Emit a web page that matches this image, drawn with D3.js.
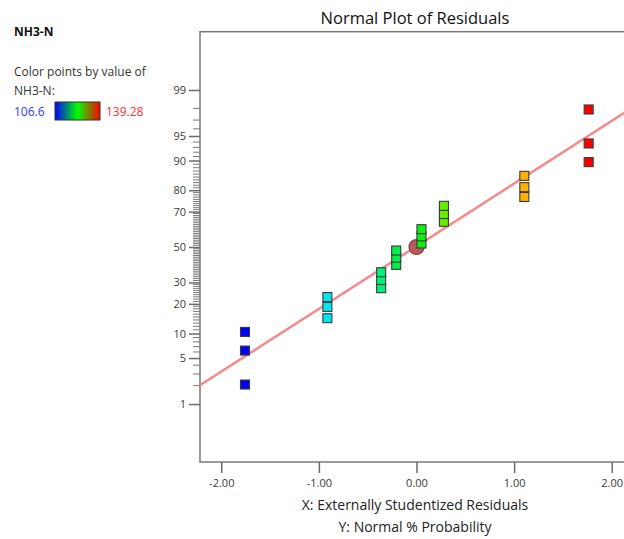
<!DOCTYPE html>
<html><head><meta charset="utf-8">
<script src="https://cdn.jsdelivr.net/npm/d3@7"></script>
<style>
body{margin:0;background:#fff;}
text{font-family:"Open Sans","Noto Sans",sans-serif;}
</style></head>
<body><svg id="c" width="624" height="539"></svg>
<script>
// ---- data ----
const residuals = [-1.757,-1.757,-1.757,-0.913,-0.913,-0.913,-0.362,-0.362,-0.362,-0.208,-0.208,-0.208,0.051,0.051,0.051,0.281,0.281,0.281,1.105,1.105,1.105,1.764,1.764,1.764];
const probability = [2.08,6.25,10.42,14.58,18.75,22.92,27.08,31.25,35.42,39.58,43.75,47.92,52.08,56.25,60.42,64.58,68.75,72.92,77.08,81.25,85.42,89.58,93.75,97.92];
const pointColors = ["#0000ff","#0000ff","#0000ff","#00e6f0","#00e6f0","#00e6f0","#00f07a","#00f07a","#00f07a","#00ee4a","#00ee4a","#00ee4a","#10f010","#10f010","#10f010","#66ee00","#66ee00","#66ee00","#ffb000","#ffb000","#ffb000","#ff0000","#ff0000","#ff0000"];
const centerPoint = {x:0.0, p:50};
const lineIntercept = 0.011, lineSlope = 0.928;
const xTicks = [-2,-1,0,1,2];
const yTickLabels = [1,5,10,20,30,50,70,80,90,95,99];
const legendMin = "106.6", legendMax = "139.28";

// inverse normal CDF (Acklam)
function probit(p){
  const a=[-39.69683028665376,220.9460984245205,-275.9285104469687,138.3577518672690,-30.66479806614716,2.506628277459239];
  const b=[-54.47609879822406,161.5858368580409,-155.6989798598866,66.80131188771972,-13.28068155288572];
  const c=[-0.007784894002430293,-0.3223964580411365,-2.400758277161838,-2.549732539343734,4.374664141464968,2.938163982698783];
  const d=[0.007784695709041462,0.3224671290700398,2.445134137142996,3.754408661907416];
  const pl=0.02425;let q,r;
  if(p<pl){q=Math.sqrt(-2*Math.log(p));return (((((c[0]*q+c[1])*q+c[2])*q+c[3])*q+c[4])*q+c[5])/((((d[0]*q+d[1])*q+d[2])*q+d[3])*q+1);}
  if(p>1-pl){q=Math.sqrt(-2*Math.log(1-p));return -(((((c[0]*q+c[1])*q+c[2])*q+c[3])*q+c[4])*q+c[5])/((((d[0]*q+d[1])*q+d[2])*q+d[3])*q+1);}
  q=p-0.5;r=q*q;return (((((a[0]*r+a[1])*r+a[2])*r+a[3])*r+a[4])*r+a[5])*q/(((((b[0]*r+b[1])*r+b[2])*r+b[3])*r+b[4])*r+1);
}
const z = p => probit(p/100);

const svg = d3.select("#c");
const L=200, T=31.7, B=462, R=632;
const x = d3.scaleLinear().domain([-2.218,2.208]).range([L,R]);
const y = d3.scaleLinear().domain([-3.185,3.19]).range([B,T]);

// frame
svg.append("rect").attr("x",L).attr("y",T).attr("width",R-L).attr("height",B-T)
  .attr("fill","none").attr("stroke","#7a7a7a").attr("stroke-width",1.5);

// y axis
const yAxis = d3.axisLeft(y).tickValues(yTickLabels.map(z)).tickSize(11).tickPadding(3)
  .tickFormat((d,i)=>yTickLabels[i]);
const gy = svg.append("g").attr("transform",`translate(${L},0)`).call(yAxis);
gy.select(".domain").remove();
gy.selectAll(".tick line").attr("stroke","#6a6a6a").attr("stroke-width",1.5);
gy.selectAll(".tick text").attr("fill","#3a3a3a").style("font-size","11px");
const minor = d3.range(1,100).filter(v=>!yTickLabels.includes(v));
svg.append("g").selectAll("line").data(minor).join("line")
  .attr("x1",L-7).attr("x2",L).attr("y1",d=>y(z(d))).attr("y2",d=>y(z(d)))
  .attr("stroke","#7a7a7a").attr("stroke-width",1);

// x axis
const xAxis = d3.axisBottom(x).tickValues(xTicks).tickSize(11).tickPadding(6).tickFormat(d=>d.toFixed(2));
const gx = svg.append("g").attr("transform",`translate(0,${B})`).call(xAxis);
gx.select(".domain").remove();
gx.selectAll(".tick line").attr("stroke","#6a6a6a").attr("stroke-width",1.5);
gx.selectAll(".tick text").attr("fill","#3a3a3a").style("font-size","11px");

// clip
svg.append("clipPath").attr("id","clip").append("rect").attr("x",L).attr("y",T).attr("width",R-L).attr("height",B-T);
const plot = svg.append("g").attr("clip-path","url(#clip)");

// fit line
const lx = x.domain();
plot.append("line").attr("x1",x(lx[0])).attr("y1",y(lineIntercept+lineSlope*lx[0]))
  .attr("x2",x(lx[1])).attr("y2",y(lineIntercept+lineSlope*lx[1]))
  .attr("stroke","#f58a8a").attr("stroke-width",2.5);

// center point circle
plot.append("circle").attr("cx",x(centerPoint.x)).attr("cy",y(z(centerPoint.p))).attr("r",7.5)
  .attr("fill","#b85a5a").attr("stroke","#7d4444").attr("stroke-width",1.2);

// squares
const s=9;
plot.selectAll("rect.pt").data(residuals).join("rect").attr("class","pt")
  .attr("x",d=>x(d)-s/2).attr("y",(d,i)=>y(z(probability[i]))-s/2)
  .attr("width",s).attr("height",s)
  .attr("fill",(d,i)=>pointColors[i]).attr("stroke","#3a3a3a").attr("stroke-width",1.1);

// titles
svg.append("text").attr("x",415).attr("y",24).attr("text-anchor","middle")
  .style("font-size","16.5px").attr("fill","#111").text("Normal Plot of Residuals");
svg.append("text").attr("x",415).attr("y",510).attr("text-anchor","middle")
  .style("font-size","14px").attr("fill","#222").text("X: Externally Studentized Residuals");
svg.append("text").attr("x",415).attr("y",532).attr("text-anchor","middle")
  .style("font-size","14px").attr("fill","#222").text("Y: Normal % Probability");

// legend
svg.append("text").attr("x",14).attr("y",36).style("font-size","12px").style("font-weight","bold")
  .attr("fill","#111").text("NH3-N");
svg.append("text").attr("x",14).attr("y",76).style("font-size","12px").attr("fill","#333").text("Color points by value of");
svg.append("text").attr("x",14).attr("y",95).style("font-size","12px").attr("fill","#333").text("NH3-N:");
svg.append("text").attr("x",14).attr("y",116).style("font-size","12px").attr("fill","#3333ff").text(legendMin);
svg.append("text").attr("x",106).attr("y",116).style("font-size","12px").attr("fill","#ff3030").text(legendMax);
const grad = svg.append("defs").append("linearGradient").attr("id","g1");
[["0%","#0000ff"],["50%","#00ff00"],["100%","#ff0000"]].forEach(s=>grad.append("stop").attr("offset",s[0]).attr("stop-color",s[1]));
svg.append("rect").attr("x",55).attr("y",102).attr("width",45).attr("height",18)
  .attr("fill","url(#g1)").attr("stroke","#333").attr("stroke-width",1);
</script></body></html>
